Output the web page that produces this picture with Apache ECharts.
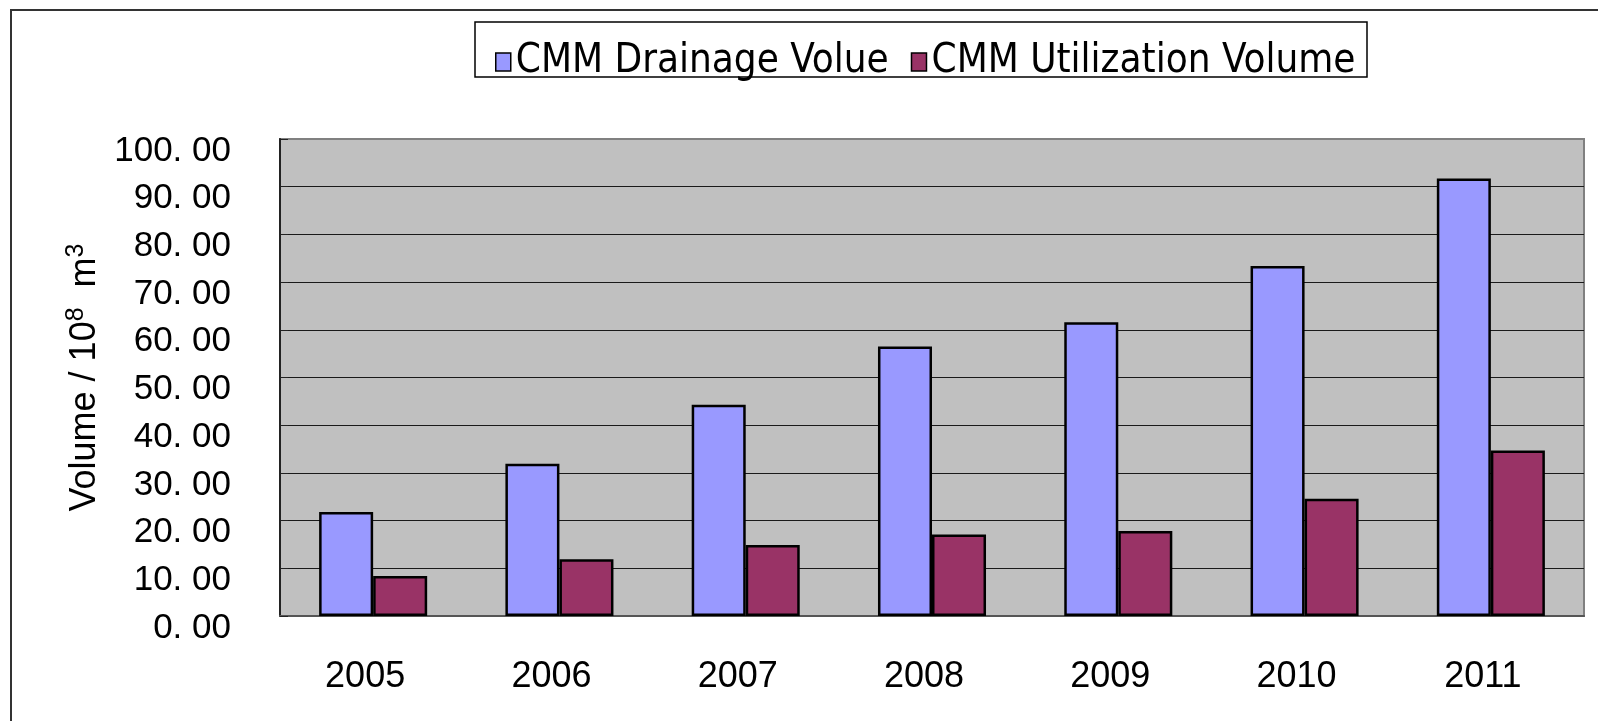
<!DOCTYPE html>
<html>
<head>
<meta charset="utf-8">
<title>CMM Drainage and Utilization Volume</title>
<script src="https://cdn.jsdelivr.net/npm/echarts@6/dist/echarts.min.js"></script>
<style>
  html, body { margin: 0; padding: 0; background: #fff; }
  #chart { width: 1598px; height: 721px; }
</style>
</head>
<body>
<div id="chart"></div>
<script>
// == Data ====================================================================

const years = ['2005', '2006', '2007', '2008', '2009', '2010', '2011']
const drainageVolume = [21.8, 31.9, 44.3, 56.5, 61.6, 73.4, 91.7]
const utilizationVolume = [8.4, 11.9, 14.9, 17.1, 17.8, 24.6, 34.7]
const yTickLabels = ['0. 00', '10. 00', '20. 00', '30. 00', '40. 00', '50. 00',
  '60. 00', '70. 00', '80. 00', '90. 00', '100. 00']
const seriesNames = ['CMM Drainage Volue', 'CMM Utilization Volume']

// == Styles ==================================================================

const labelFont = '"Liberation Sans", Arial, sans-serif'
const legendFont = '"Liberation Sans Narrow", "DejaVu Sans Condensed", sans-serif'

const barBorder = { borderColor: '#000', borderWidth: 2.5 }

const option = {
  backgroundColor: '#fff',
  animation: false,
  graphic: [
    // chart frame (runs off right and bottom edges)
    { type: 'rect', silent: true, z: -1,
      shape: { x: 11, y: 10, width: 1600, height: 720 },
      style: { fill: 'none', stroke: '#333', lineWidth: 2 } },
    // legend frame
    { type: 'rect', silent: true,
      shape: { x: 475, y: 22, width: 892, height: 55 },
      style: { fill: '#fff', stroke: '#000', lineWidth: 1.5 } }
  ],
  legend: {
    left: 490,
    top: 37,
    itemWidth: 15,
    itemHeight: 18,
    itemGap: 22,
    icon: 'rect',
    z: 10,
    itemStyle: { borderColor: '#000', borderWidth: 1.5 },
    textStyle: { fontFamily: legendFont, fontSize: 40, color: '#000' },
    data: seriesNames
  },
  grid: {
    left: 280,
    right: 14,
    top: 139,
    bottom: 105,
    show: true,
    backgroundColor: '#c0c0c0',
    borderColor: '#808080',
    borderWidth: 2
  },
  xAxis: {
    type: 'category',
    data: years,
    axisLine: { lineStyle: { color: '#555', width: 2 } },
    axisTick: { inside: true, length: 12, lineStyle: { color: '#222' } },
    axisLabel: {
      margin: 43,
      fontFamily: labelFont,
      fontSize: 36,
      lineHeight: 36,
      color: '#000',
      padding: [0, 16, 0, 0]
    }
  },
  yAxis: {
    type: 'value',
    min: 0,
    max: 100,
    interval: 10,
    name: '{t|Volume / 10}{s|8}{t|  m}{s|3}',
    nameLocation: 'middle',
    nameGap: 172,
    nameTextStyle: {
      rich: {
        t: { fontFamily: labelFont, fontSize: 36, color: '#000', lineHeight: 44 },
        s: { fontFamily: labelFont, fontSize: 25, color: '#000', verticalAlign: 'top', lineHeight: 30 }
      }
    },
    axisLine: { show: true, lineStyle: { color: '#222', width: 2 } },
    axisTick: { show: true, inside: true, length: 8, lineStyle: { color: '#222' } },
    splitLine: { show: true, showMaxLine: false, lineStyle: { color: '#1a1a1a', width: 1 } },
    axisLabel: {
      margin: 49,
      fontFamily: labelFont,
      fontSize: 35,
      color: '#000',
      verticalAlign: 'top',
      lineHeight: 24,
      formatter: (v) => yTickLabels[Math.round(v / 10)]
    }
  },
  series: [
    {
      name: seriesNames[0],
      type: 'bar',
      data: drainageVolume,
      barGap: '0%',
      barCategoryGap: '42%',
      itemStyle: Object.assign({ color: '#9999ff' }, barBorder)
    },
    {
      name: seriesNames[1],
      type: 'bar',
      data: utilizationVolume,
      itemStyle: Object.assign({ color: '#993366' }, barBorder)
    }
  ]
}

echarts.init(document.getElementById('chart')).setOption(option)
</script>
</body>
</html>
